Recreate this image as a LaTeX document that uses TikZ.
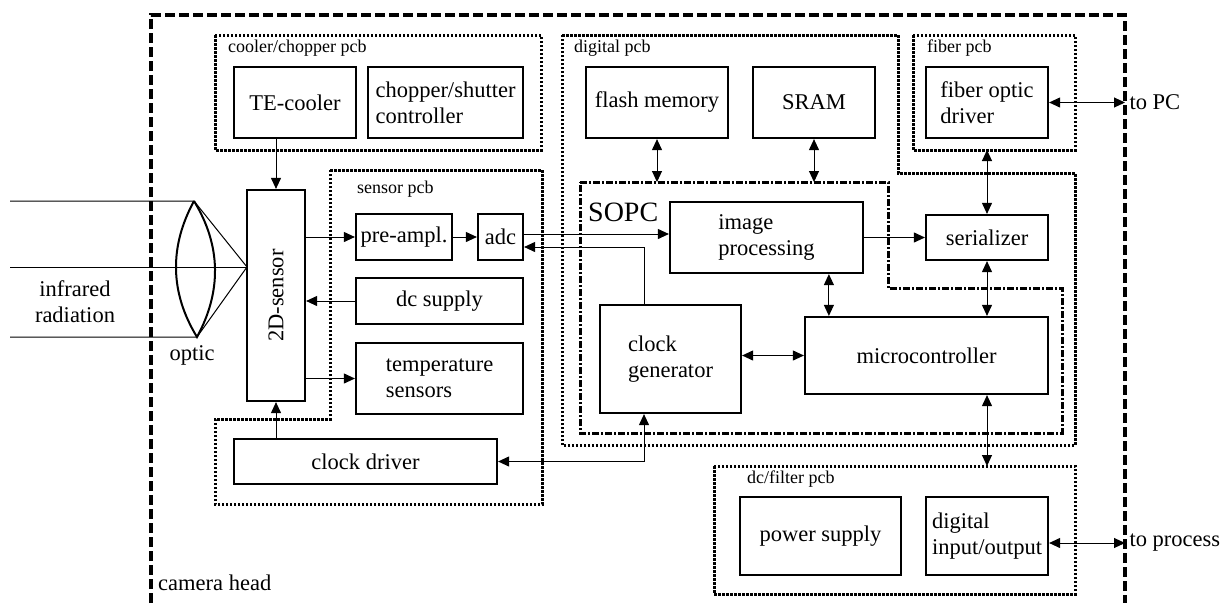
\documentclass[tikz,border=0pt]{standalone}
\usepackage{fontspec}
\setmainfont{Liberation Serif}
\usetikzlibrary{arrows.meta}
\tikzset{
  blk/.style={draw, line width=2.2pt, inner sep=0pt, align=left},
  pcb/.style={line width=3pt, dash pattern=on 2.5pt off 1.5pt},
  pcblabel/.style={anchor=west, inner sep=0pt, font=\fontsize{18}{20}\selectfont},
  arr/.style={line width=1pt, -{Triangle[length=11pt,width=10pt]}},
  darr/.style={line width=1pt, {Triangle[length=11pt,width=10pt]}-{Triangle[length=11pt,width=10pt]}},
}

\begin{document}
\begin{tikzpicture}[x=1pt, y=-1pt, font=\fontsize{22.5}{26}\selectfont]
        \useasboundingbox (0,0) rectangle (1224,603);
        % camera head
        \draw[line width=4.5pt, dash pattern=on 10pt off 4pt] (151,603) -- (151,15) -- (1125,15) -- (1125,603);
        \coordinate (camr) at (1125,0);
        \node[anchor=west, inner sep=0pt] (camlbl) at (158,583) {camera head};
        % cooler/chopper pcb
        \draw[pcb] (215,35) rectangle (541,150);
        \node[pcblabel] (coollbl) at (228,48) {cooler/chopper pcb};
        \node[blk, minimum width=122pt, minimum height=71pt] (tec) at (295,102.5) {TE-cooler};
        \node[blk, minimum width=155pt, minimum height=71pt] (chop) at (445.5,102.5) {chopper/shutter\\controller};
        % sensor pcb
        \draw[pcb] (330,170) -- (542,170) -- (542,504) -- (215,504) -- (215,419) -- (330,419) -- cycle;
        \node[pcblabel] (senslbl) at (357,189) {sensor pcb};
        \node[blk, minimum width=58pt, minimum height=211pt] (sens) at (276,295.5) {};
        \node[rotate=90] (senstxt) at (sens) {2D-sensor};
        \node[blk, minimum width=96pt, minimum height=46pt] (pre) at (404,237) {pre-ampl.};
        \node[blk, minimum width=45pt, minimum height=46pt] (adc) at (500.5,237) {adc};
        \node[blk, minimum width=167pt, minimum height=46pt] (dcs) at (439.5,301) {dc supply};
        \node[blk, minimum width=167pt, minimum height=71pt] (temp) at (439.5,378.5) {temperature\\sensors};
        \node[blk, minimum width=263pt, minimum height=45pt] (cdrv) at (365.5,461.5) {clock driver};
        % optic
        \coordinate (ltop) at (194,201);
        \coordinate (lbot) at (197,337);
        \coordinate (focus) at (247,267);
        \draw[line width=1pt] (10,201) -- (ltop) -- (focus);
        \draw[line width=1pt] (10,267) -- (focus);
        \draw[line width=1pt] (10,337) -- (lbot) -- (focus);
        \draw[line width=2pt] (ltop) .. controls (169.5,246) and (169.5,292) .. (lbot) .. controls (221.5,292) and (221.5,246) .. (ltop);
        \node[align=center] (irlbl) at (75,302) {infrared\\radiation};
        \node (opticlbl) at (192,355) {optic};
        % digital pcb
        \draw[pcb] (562,35) -- (898,35) -- (898,173) -- (1075,173) -- (1075,445) -- (562,445) -- cycle;
        \node[pcblabel] (diglbl) at (574,48) {digital pcb};
        \node[blk, minimum width=142pt, minimum height=71pt] (fmem) at (657,102.5) {flash memory};
        \node[blk, minimum width=122pt, minimum height=71pt] (sram) at (814,102.5) {SRAM};
        % SOPC
        \draw[line width=3pt, dash pattern=on 7pt off 2pt on 2pt off 2pt] (580,182) coordinate (sopctop) -- (888,182) -- (888,288) -- (1062,288) -- (1062,433) -- (580,433) -- cycle;
        \node[anchor=west, inner sep=0pt, font=\fontsize{28}{30}\selectfont] (sopclbl) at (588,212) {SOPC};
        \node[blk, minimum width=193pt, minimum height=71pt] (img) at (766.5,237.5) {image\\processing};
        \node[blk, minimum width=141pt, minimum height=108pt] (clkgen) at (670.5,359) {clock\\generator};
        \node[blk, minimum width=243pt, minimum height=77pt] (micro) at (926.5,355.5) {microcontroller};
        \node[blk, minimum width=122pt, minimum height=45pt] (ser) at (987,237.5) {serializer};
        % fiber pcb
        \draw[pcb] (913,35) rectangle (1075,150) coordinate (fibpcb);
        \node[pcblabel] (fiblbl) at (927,48) {fiber pcb};
        \node[blk, minimum width=122pt, minimum height=71pt] (fod) at (987,102.5) {fiber optic\\driver};
        % dc/filter pcb
        \draw[pcb] (714,466) coordinate (dcpcb) rectangle (1075,594);
        \node[pcblabel] (dclbl) at (747,479) {dc/filter pcb};
        \node[blk, minimum width=161pt, minimum height=78pt] (psu) at (820.5,536) {power supply};
        \node[blk, minimum width=122pt, minimum height=78pt] (dio) at (987,536) {digital\\input/output};
        % connections
        \draw[arr] (tec.south -| sens.north) -- (sens.north);
        \draw[arr] (cdrv.north -| sens.south) -- (sens.south);
        \draw[arr] (pre.west -| sens.east) -- (pre.west);
        \draw[arr] (pre.east) -- (adc.west);
        \draw[arr] (dcs.west) -- (dcs.west -| sens.east);
        \draw[arr] (temp.west -| sens.east) -- (temp.west);
        \draw[arr] ([yshift=3pt]adc.east) -- ([yshift=3pt]adc.east -| img.west);
        \draw[arr] ([xshift=-26.5pt]clkgen.north) |- ([yshift=-10pt]adc.east);
        \draw[darr] (cdrv.east) -| ([xshift=-26.5pt]clkgen.south);
        \draw[darr] (fmem.south) -- (fmem.south |- sopctop);
        \draw[darr] (sram.south) -- (sram.south |- sopctop);
        \draw[arr] (img.east |- ser.west) -- (ser.west);
        \draw[darr] ([xshift=25pt]micro.north west) -- ([xshift=25pt]micro.north west |- img.south);
        \draw[darr] (ser.south) -- (ser.south |- micro.north);
        \draw[darr] (ser.north |- fibpcb) -- (ser.north);
        \draw[darr] (clkgen.east |- micro.west) -- (micro.west);
        \draw[darr] (micro.south -| ser.south) -- (dcpcb -| ser.south);
        \draw[darr] (fod.east) -- (fod.east -| camr) node[right, inner sep=4pt] (topc) {to PC};
        \draw[darr] ([yshift=-7pt]dio.east) -- ([yshift=-7pt]dio.east -| camr) node[right, inner sep=4pt] (toproc) {to process};
\end{tikzpicture}
\end{document}
